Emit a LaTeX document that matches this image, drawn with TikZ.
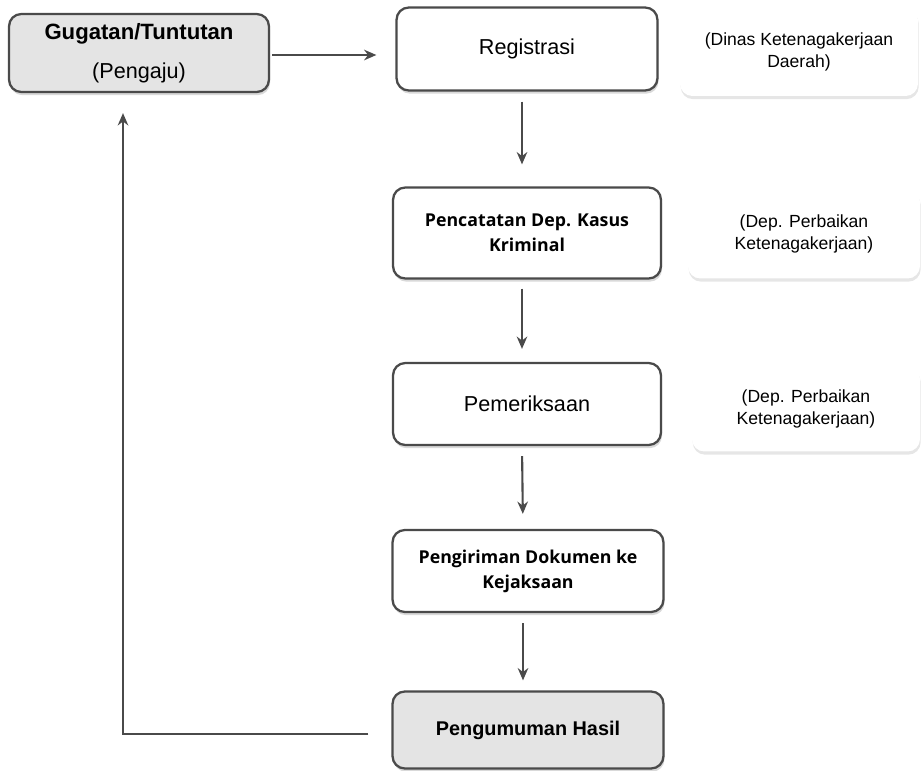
\documentclass[tikz,border=0pt]{standalone}
\usepackage{fontspec}
\setmainfont{Liberation Sans}
\newfontfamily\opensans{Open Sans}
\usetikzlibrary{arrows.meta,shadows}

\definecolor{trait}{HTML}{4A4A4A}
\definecolor{grisfond}{HTML}{E4E4E4}

\tikzset{
  etape/.style={draw=trait, line width=1.3pt, rounded corners=7pt, fill=white,
    align=center, inner sep=0pt,
    drop shadow={opacity=0.3, shadow xshift=0.6pt, shadow yshift=-1.8pt}},
  note/.style={rounded corners=7pt, fill=white, align=center, inner sep=0pt,
    font=\fontsize{10}{12.8}\selectfont,
    drop shadow={opacity=0.2, shadow xshift=0.4pt, shadow yshift=-1.8pt}},
  fleche/.style={draw=trait, line width=1.2pt, -{Stealth[length=7pt,width=6pt]}}
}

\begin{document}
\begin{tikzpicture}[x=0.02cm, y=-0.02cm]
      \useasboundingbox (0,0) rectangle (921,771);

      %boites principales
      \node[etape, fill=grisfond, minimum width=5.2cm, minimum height=1.56cm] (gugat) at (139,53)
        {{\bfseries\fontsize{12.6}{15}\selectfont Gugatan/Tuntutan}\\[10pt]{\fontsize{12.3}{15}\selectfont (Pengaju)}};
      \node[etape, minimum width=5.22cm, minimum height=1.66cm, font=\fontsize{12.3}{15}\selectfont] (reg) at (527,49) {Registrasi};
      \node[etape, minimum width=5.36cm, minimum height=1.82cm, font=\opensans\bfseries\fontsize{10.1}{14.5}\selectfont] (catat) at (527,233) {Pencatatan Dep. Kasus\\Kriminal};
      \node[etape, minimum width=5.36cm, minimum height=1.64cm, font=\fontsize{12.3}{15}\selectfont] (periksa) at (527,404) {Pemeriksaan};
      \node[etape, minimum width=5.42cm, minimum height=1.64cm, font=\opensans\bfseries\fontsize{10.1}{14.2}\selectfont] (kirim) at (528,571) {Pengiriman Dokumen ke\\Kejaksaan};
      \node[etape, fill=grisfond, minimum width=5.42cm, minimum height=1.54cm, font=\bfseries\fontsize{11.3}{14}\selectfont] (umum) at (528,730) {Pengumuman Hasil};

      %notes a droite
      \node[note, minimum width=4.76cm, minimum height=1.76cm] (n1) at (799,52) {(Dinas Ketenagakerjaan\\Daerah)};
      \node[note, minimum width=4.64cm, minimum height=1.78cm] (n2) at (804,234) {(Dep. Perbaikan\\Ketenagakerjaan)};
      \node[note, minimum width=4.56cm, minimum height=1.7cm] (n3) at (806,409) {(Dep. Perbaikan\\Ketenagakerjaan)};

      %fleches
      \draw[fleche, shorten <=0.04cm, shorten >=0.38cm] ([yshift=-0.04cm]gugat.east) -- ([yshift=-0.04cm]gugat.east -| reg.west);
      \draw[fleche, shorten <=0.2cm, shorten >=0.44cm] ([xshift=-0.1cm]reg.south) -- ([xshift=-0.1cm]catat.north);
      \draw[fleche, shorten <=0.18cm, shorten >=0.26cm] ([xshift=-0.1cm]catat.south) -- ([xshift=-0.1cm]periksa.north);
      \draw[fleche, shorten <=0.2cm, shorten >=0.3cm] ([xshift=-0.1cm]periksa.south) -- ([xshift=-0.1cm]kirim.north);
      \draw[fleche, shorten <=0.2cm, shorten >=0.2cm] ([xshift=-0.1cm]kirim.south) -- ([xshift=-0.1cm]umum.north);
      %retour
      \draw[fleche, shorten <=0.46cm, shorten >=0.4cm] ([yshift=-0.08cm]umum.west) -| ([xshift=-0.32cm]gugat.south);
    \end{tikzpicture}
\end{document}
